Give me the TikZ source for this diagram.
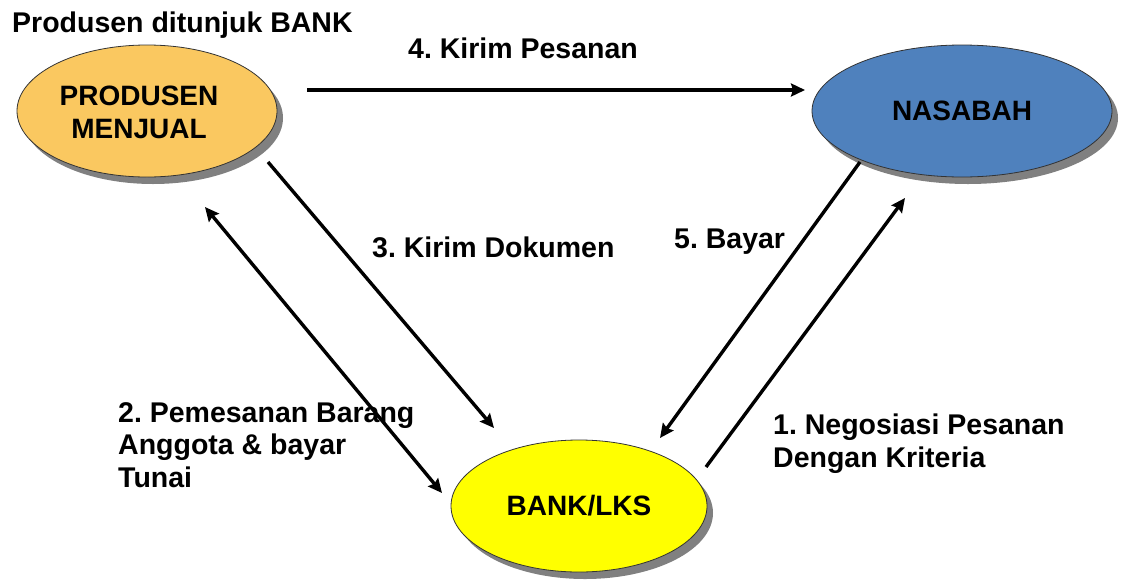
\documentclass[tikz,border=0pt]{standalone}
\usepackage{fontspec}
\setmainfont{Liberation Sans}
\usetikzlibrary{shapes.geometric,shadows,arrows.meta}
\frenchspacing

\definecolor{prodorange}{RGB}{250,200,96}
\definecolor{nasblue}{RGB}{79,129,189}
\definecolor{bankyellow}{RGB}{255,255,0}

\tikzset{
  party/.style={ellipse, draw=black!80, line width=0.8pt, inner sep=0pt,
    minimum height=132pt, align=center,
    font=\fontsize{28}{33}\selectfont\bfseries,
    drop shadow={shadow xshift=6pt, shadow yshift=-7pt, fill=black!50, opacity=1}},
  lbl/.style={anchor=base west, inner sep=0pt, align=left,
    font=\fontsize{28.5}{32.5}\selectfont\bfseries},
  tip/.style={Stealth[length=14pt,width=13pt,inset=2pt]},
  flow/.style={line width=3.4pt, -{Stealth[length=14pt,width=13pt,inset=2pt]}},
  flowboth/.style={line width=3.4pt, {Stealth[length=14pt,width=13pt,inset=2pt]}-{Stealth[length=14pt,width=13pt,inset=2pt]}}
}

\begin{document}
\begin{tikzpicture}[x=1pt,y=-1pt]
\useasboundingbox (0,0) rectangle (1121,584);

% the three parties
\node[party, fill=prodorange, minimum width=260pt] (prod) at (147,111) {};
\node[anchor=center, inner sep=0pt, align=center,
  font=\fontsize{28}{33}\selectfont\bfseries] (prodtext) at (139,112) {PRODUSEN\\MENJUAL};
\node[party, fill=nasblue, minimum width=300pt] (nas) at (962,111) {NASABAH};
\node[party, fill=bankyellow, minimum width=256pt] (bank) at (579,506) {BANK/LKS};

% free ends of the flows
\coordinate (a4s) at (307,90);  \coordinate (a4e) at (805,90);
\coordinate (a3s) at (268,162); \coordinate (a3e) at (494,428);
\coordinate (a2s) at (205,207); \coordinate (a2e) at (442,493);
\coordinate (a5s) at (860,162); \coordinate (a5e) at (660,438);
\coordinate (a1s) at (706,467); \coordinate (a1e) at (905,198);

\draw[flow] (a4s) -- (a4e);
\draw[flow] (a3s) -- (a3e);
\draw[flowboth] (a2s) -- (a2e);
\draw[flow] (a5s) -- (a5e);
\draw[flow] (a1s) -- (a1e);

% captions (multi-line ones are placed by the baseline of their last line)
\node[lbl] (title) at (12,32) {Produsen ditunjuk BANK};
\node[lbl] (l4) at (408,58) {4. Kirim Pesanan};
\node[lbl] (l3) at (372,257) {3. Kirim Dokumen};
\node[lbl] (l5) at (674,248) {5. Bayar};
\node[lbl] (l2) at (118,487) {2. Pemesanan Barang\\Anggota \& bayar\\Tunai};
\node[lbl] (l1) at (773,467) {1. Negosiasi Pesanan\\Dengan Kriteria};
\end{tikzpicture}
\end{document}
